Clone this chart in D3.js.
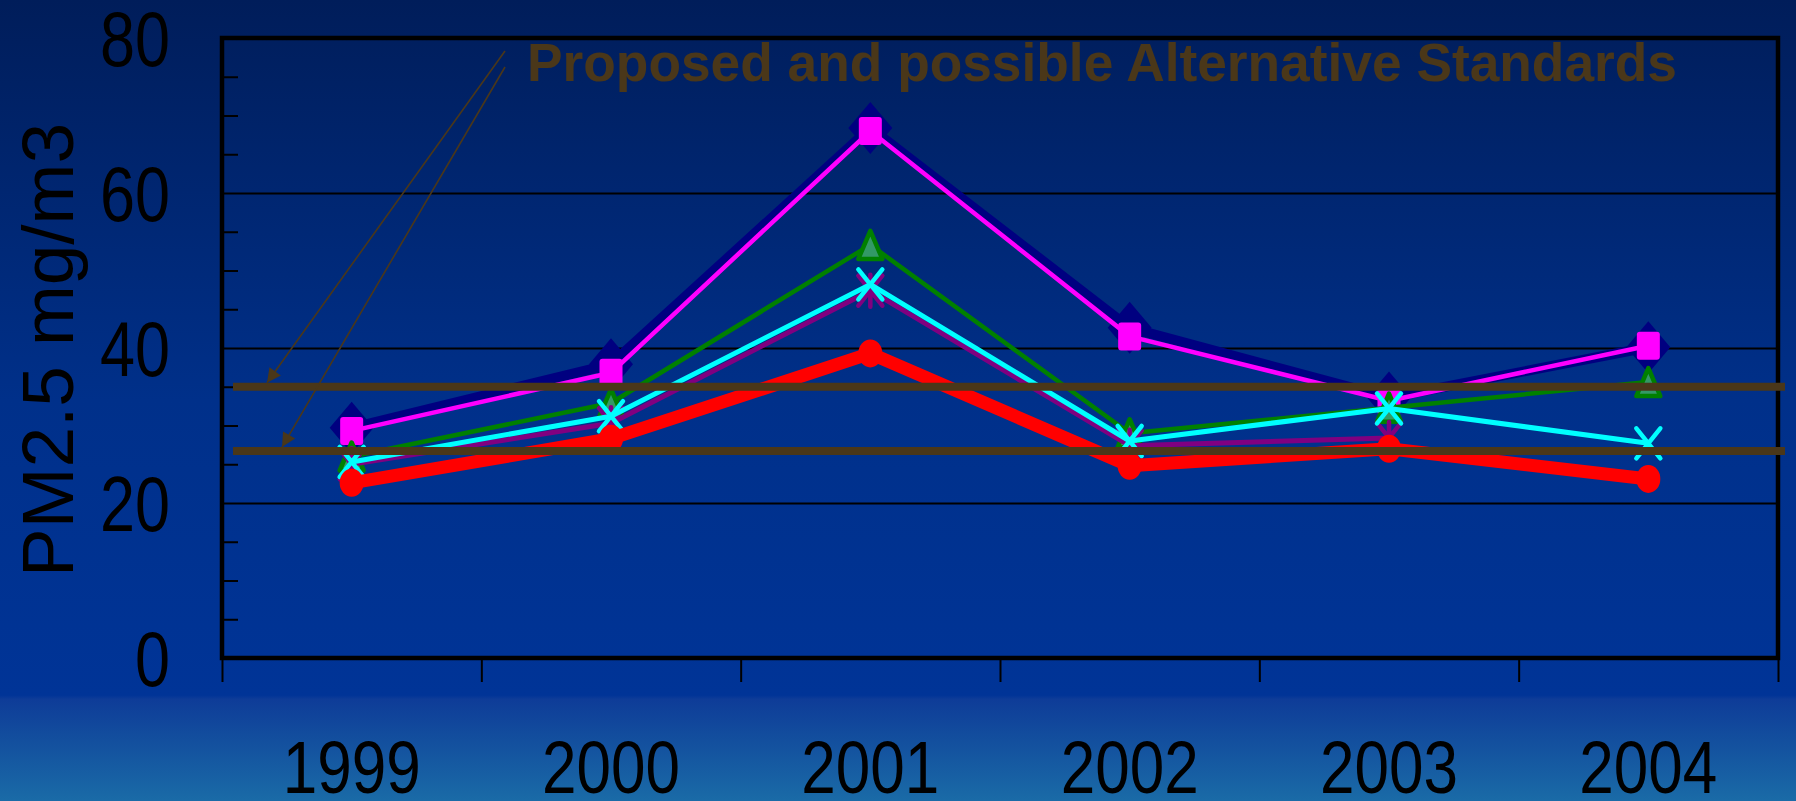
<!DOCTYPE html>
<html>
<head>
  <meta charset="utf-8">
  <title>PM2.5 by year</title>
  <script src="https://d3js.org/d3.v7.min.js"></script>
  <style>
    body { margin: 0; background: #002060; }
    svg { display: block; }
  </style>
</head>
<body>
<script>
  // data
  var years = ["1999", "2000", "2001", "2002", "2003", "2004"];
  var navyDiamond   = [29.7, 37.9, 68.4, 42.6, 33.6, 40.1];
  var magentaSquare = [29.3, 36.8, 68.0, 41.5, 33.2, 40.3];
  var greenTriangle = [26.0, 32.9, 53.3, 29.0, 32.3, 35.6];
  var purpleStar    = [25.0, 30.3, 47.4, 27.4, 28.4, null];
  var cyanCross     = [25.3, 31.2, 48.2, 28.0, 32.2, 27.7];
  var redCircle     = [22.6, 28.3, 39.3, 24.8, 27.0, 23.1];
  var standards = [35, 26.7];
  var yMajor = [0, 20, 40, 60, 80];
  var yMinor = [5, 10, 15, 25, 30, 35, 45, 50, 55, 65, 70, 75];
  var yTitle = "PM2.5 mg/m3";
  var note = "Proposed and possible Alternative Standards";

  var W = 1796, H = 801;
  var pLeft = 222, pRight = 1778, pTop = 38, pBottom = 658;
  var brown = "#4a3719";
  var narrow = "'Liberation Sans Narrow', 'Arial Narrow', 'Liberation Sans', Arial, sans-serif";

  var svg = d3.select("body").append("svg").attr("width", W).attr("height", H);

  /* background gradient, dark at top, lighter band under the axis */
  var defs = svg.append("defs");
  var grad = defs.append("linearGradient").attr("id", "bg")
    .attr("x1", 0).attr("y1", 0).attr("x2", 0).attr("y2", 1);
  [["0%", "#001d5a"], ["50%", "#00308a"], ["86.8%", "#003497"],
   ["87.3%", "#0e3c98"], ["100%", "#1a6ba7"]].forEach(function(s) {
    grad.append("stop").attr("offset", s[0]).attr("stop-color", s[1]);
  });
  svg.append("rect").attr("width", W).attr("height", H).attr("fill", "url(#bg)");

  var x = d3.scaleBand().domain(years).range([pLeft, pRight]);
  var xb = d3.scaleLinear().domain([0, years.length]).range([pLeft, pRight]);
  var y = d3.scaleLinear().domain([0, 80]).range([pBottom, pTop]);

  // gridlines at major values
  svg.append("g").attr("transform", "translate(" + pLeft + ",0)")
    .call(d3.axisLeft(y).tickValues(yMajor).tickSize(-(pRight - pLeft)).tickFormat(""))
    .call(function(g) {
      g.select(".domain").remove();
      g.selectAll("line").attr("stroke", "#000").attr("stroke-width", 2);
    });
  // minor inside ticks
  svg.append("g").attr("transform", "translate(" + pLeft + ",0)")
    .call(d3.axisLeft(y).tickValues(yMinor).tickSize(-16).tickFormat(""))
    .call(function(g) {
      g.select(".domain").remove();
      g.selectAll("line").attr("stroke", "#000").attr("stroke-width", 2);
    });
  // y labels
  svg.append("g").attr("transform", "translate(" + pLeft + ",0)")
    .call(d3.axisLeft(y).tickValues(yMajor).tickSize(0).tickPadding(52))
    .call(function(g) {
      g.select(".domain").remove();
      g.selectAll("text").attr("fill", "#000").attr("font-family", narrow)
        .attr("font-size", 77).attr("dy", "0.36em")
        .attr("textLength", function(d) { return d < 10 ? 35 : 70; })
        .attr("lengthAdjust", "spacingAndGlyphs");
    });
  // x boundary ticks
  svg.append("g").attr("transform", "translate(0," + pBottom + ")")
    .call(d3.axisBottom(xb).tickValues(d3.range(0, years.length + 1)).tickSize(24).tickFormat(""))
    .call(function(g) {
      g.select(".domain").remove();
      g.selectAll("line").attr("stroke", "#000").attr("stroke-width", 2);
    });
  // x labels
  svg.append("g").attr("transform", "translate(0," + pBottom + ")")
    .call(d3.axisBottom(x).tickSize(0).tickPadding(135))
    .call(function(g) {
      g.select(".domain").remove();
      g.selectAll("text").attr("fill", "#000").attr("font-family", narrow)
        .attr("font-size", 74).attr("dy", 0)
        .attr("textLength", 138).attr("lengthAdjust", "spacingAndGlyphs");
    });

  // plot frame
  svg.append("rect").attr("x", pLeft).attr("y", pTop)
    .attr("width", pRight - pLeft).attr("height", pBottom - pTop)
    .attr("fill", "none").attr("stroke", "#000").attr("stroke-width", 4.5);

  // y title, letters spread out as in the original
  svg.append("text")
    .attr("transform", "translate(73,350) rotate(-90)")
    .attr("text-anchor", "middle").attr("fill", "#000")
    .attr("font-family", "'Liberation Sans', Arial, sans-serif").attr("font-size", 73)
    .attr("textLength", 454).attr("lengthAdjust", "spacing")
    .text(yTitle);

  /* marker shapes, slightly taller than wide like the original */
  function diamond(cx, cy) {
    return "M" + cx + "," + (cy - 26) + "L" + (cx + 22) + "," + cy + "L" + cx + "," + (cy + 26) + "L" + (cx - 22) + "," + cy + "Z";
  }
  function triangle(cx, cy) {
    return "M" + cx + "," + (cy - 14) + "L" + (cx + 12) + "," + (cy + 14) + "L" + (cx - 12) + "," + (cy + 14) + "Z";
  }
  function cross(cx, cy) {
    return "M" + (cx - 12) + "," + (cy - 15) + "L" + (cx + 12) + "," + (cy + 15) +
      "M" + (cx + 12) + "," + (cy - 15) + "L" + (cx - 12) + "," + (cy + 15);
  }
  function star(cx, cy) {
    return cross(cx, cy) + "M" + cx + "," + (cy - 16) + "L" + cx + "," + (cy + 16);
  }

  var series = [
    { v: navyDiamond, color: "#000080", width: 10, mark: "diamond" },
    { v: magentaSquare, color: "#ff00ff", width: 4.5, mark: "square" },
    { v: greenTriangle, color: "#008000", width: 4.5, mark: "triangle" },
    { v: purpleStar, color: "#800080", width: 5, mark: "star" },
    { v: cyanCross, color: "#00ffff", width: 5, mark: "cross" },
    { v: redCircle, color: "#ff0000", width: 13, mark: "circle" }
  ];

  var line = d3.line()
    .defined(function(d) { return d.v != null; })
    .x(function(d) { return x(d.year) + x.bandwidth() / 2; })
    .y(function(d) { return y(d.v); });

  series.forEach(function(s) {
    var pts = years.map(function(yr, i) { return { year: yr, v: s.v[i] }; });
    var g = svg.append("g");
    g.append("path").datum(pts).attr("d", line)
      .attr("fill", "none").attr("stroke", s.color).attr("stroke-width", s.width)
      .attr("stroke-linejoin", "round").attr("stroke-linecap", "round");
    pts.filter(function(d) { return d.v != null; }).forEach(function(d) {
      var cx = x(d.year) + x.bandwidth() / 2, cy = y(d.v);
      if (s.mark == "diamond") {
        g.append("path").attr("d", diamond(cx, cy)).attr("fill", s.color);
      } else if (s.mark == "square") {
        g.append("rect").attr("x", cx - 11.5).attr("y", cy - 14).attr("width", 23).attr("height", 28)
          .attr("rx", 3).attr("fill", s.color);
      } else if (s.mark == "triangle") {
        g.append("path").attr("d", triangle(cx, cy)).attr("fill", "#339966")
          .attr("stroke", s.color).attr("stroke-width", 4.5).attr("stroke-linejoin", "round");
      } else if (s.mark == "cross") {
        g.append("path").attr("d", cross(cx, cy)).attr("fill", "none")
          .attr("stroke", s.color).attr("stroke-width", 4.5).attr("stroke-linecap", "round");
      } else if (s.mark == "star") {
        g.append("path").attr("d", star(cx, cy)).attr("fill", "none")
          .attr("stroke", s.color).attr("stroke-width", 4.5).attr("stroke-linecap", "round");
      } else {
        g.append("ellipse").attr("cx", cx).attr("cy", cy).attr("rx", 12).attr("ry", 14).attr("fill", s.color);
      }
    });
  });

  // standard lines on top
  svg.selectAll(".std").data(standards).enter().append("line")
    .attr("x1", 233).attr("x2", 1785)
    .attr("y1", function(d) { return y(d); }).attr("y2", function(d) { return y(d); })
    .attr("stroke", brown).attr("stroke-width", 8);

  // arrows from the note down to the lines
  defs.append("marker").attr("id", "head").attr("viewBox", "0 0 10 10")
    .attr("refX", 10).attr("refY", 5).attr("markerWidth", 18).attr("markerHeight", 14)
    .attr("markerUnits", "userSpaceOnUse").attr("orient", "auto")
    .append("path").attr("d", "M0,0L10,5L0,10Z").attr("fill", brown);
  var starts = [[505, 51], [505, 67]];
  var tips = [[267, y(standards[0]) - 4], [282, y(standards[1]) - 4]];
  starts.forEach(function(p, i) {
    svg.append("line").attr("x1", p[0]).attr("y1", p[1])
      .attr("x2", tips[i][0]).attr("y2", tips[i][1])
      .attr("stroke", brown).attr("stroke-width", 1.6).attr("marker-end", "url(#head)");
  });

  svg.append("text").attr("x", 527).attr("y", 81)
    .attr("font-family", "'Liberation Sans', Arial, sans-serif").attr("font-weight", "bold")
    .attr("font-size", 53).attr("fill", brown)
    .attr("textLength", 1150).attr("lengthAdjust", "spacingAndGlyphs")
    .text(note);
</script>
</body>
</html>
